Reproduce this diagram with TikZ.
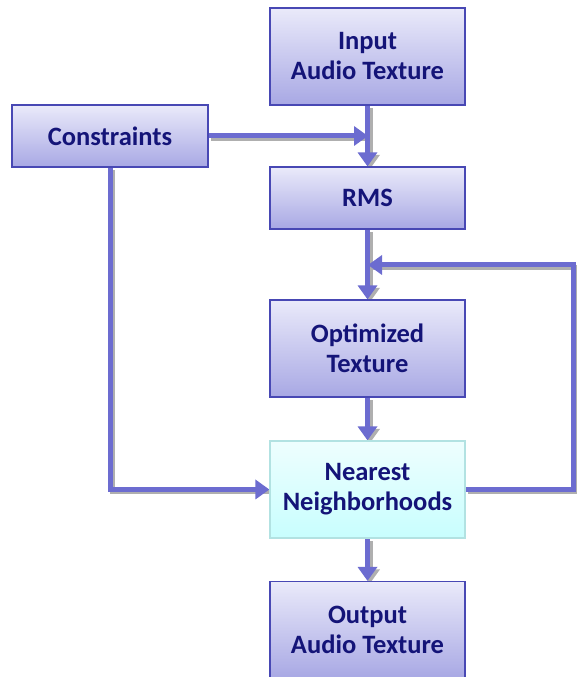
\documentclass[tikz,border=0pt]{standalone}
\usepackage{fontspec}
\setmainfont{Carlito}
\usetikzlibrary{arrows.meta,calc,backgrounds}
\definecolor{boxtop}{RGB}{234,234,250}
\definecolor{boxbot}{RGB}{168,168,228}
\definecolor{boxline}{RGB}{72,72,180}
\definecolor{nntop}{RGB}{238,254,254}
\definecolor{nnbot}{RGB}{200,254,254}
\definecolor{nnline}{RGB}{178,226,226}
\definecolor{arrowc}{RGB}{108,108,208}
\definecolor{txt}{RGB}{20,20,120}
\definecolor{shadowc}{RGB}{175,175,175}
\tikzset{
  box/.style={draw=boxline, line width=1.2pt, top color=boxtop, bottom color=boxbot,
    minimum width=195pt, inner sep=0pt, align=center, text=txt,
    font=\fontsize{26.5}{30}\selectfont\bfseries},
  nnbox/.style={box, draw=nnline, top color=nntop, bottom color=nnbot},
  conn/.style={draw=arrowc, line width=5pt, -{Triangle[length=14pt,width=19pt]}},
  shad/.style={draw=shadowc, line width=5pt, -{Triangle[length=14pt,width=19pt]}, transform canvas={shift={(2.5pt,-2.5pt)}}},
  shadplain/.style={draw=shadowc, line width=5pt, transform canvas={shift={(2.5pt,-2.5pt)}}},
}
\begin{document}
\begin{tikzpicture}[x=1pt,y=1pt]
\useasboundingbox (0,0) rectangle (576,677);
\node[box, minimum height=97pt] (inp) at (367.5,620.5) {Input\\Audio Texture};
\node[box, minimum height=62pt, minimum width=196pt] (cons) at (110,541) {Constraints};
\node[box, minimum height=62pt] (rms) at (367.5,479) {RMS};
\node[box, minimum height=97pt] (opt) at (367.5,328.5) {Optimized\\Texture};
\node[nnbox, minimum height=97pt] (nn) at (367.5,187.5) {Nearest\\Neighborhoods};
\node[box, minimum height=97pt] (out) at (367.5,47) {Output\\Audio Texture};
\coordinate (fbr) at (573,412);
\coordinate (fbl) at (368,412);
\coordinate (cj) at (368,541);
\begin{scope}[on background layer]
\draw[shadplain] (cons.east) -- (cj);
\draw[shad] (inp.south) -- (rms.north);
\draw[shadplain] (cons.south) |- (nn.west);
\draw[shad] (rms.south) -- (opt.north);
\draw[shadplain] (nn.east) -| (fbr) -- (fbl);
\draw[shad] (opt.south) -- (nn.north);
\draw[shad] (nn.south) -- (out.north);
\draw[conn] (cons.east) -- (cj);
\draw[conn] (inp.south) -- (rms.north);
\draw[conn] (cons.south) |- (nn.west);
\draw[conn] (rms.south) -- (opt.north);
\draw[conn] (nn.east) -| (fbr) -- (fbl);
\draw[conn] (opt.south) -- (nn.north);
\draw[conn] (nn.south) -- (out.north);
\end{scope}
\end{tikzpicture}
\end{document}
